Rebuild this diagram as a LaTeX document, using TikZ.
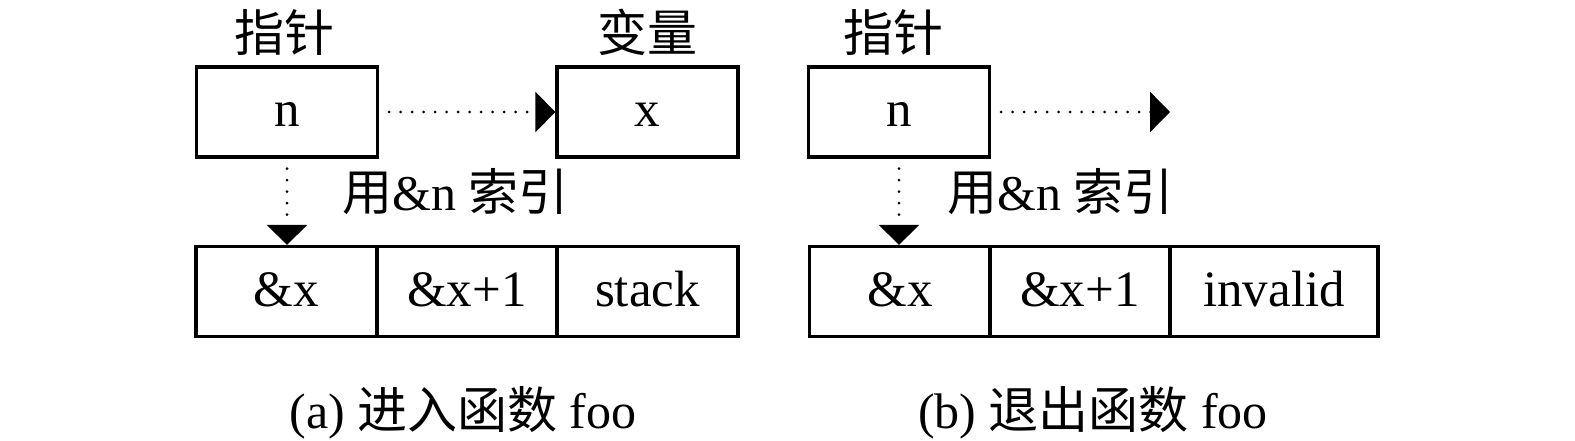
\documentclass[tikz,border=0pt]{standalone}
\usepackage{fontspec}
\setmainfont{Liberation Serif}
\newfontfamily\cjk{Noto Sans CJK SC}
\usetikzlibrary{arrows.meta}
\begin{document}
\begin{tikzpicture}[x=1pt,y=-1pt,
 cell/.style={draw,line width=3.3pt,minimum width=181pt,minimum height=90pt,inner sep=0pt,text height=37pt,text depth=7pt,font=\fontsize{51}{60}\selectfont},
 lbl/.style={inner sep=0pt,font=\fontsize{50}{60}\selectfont},
 ptr/.style={line width=3pt,line cap=round,dash pattern=on 0pt off 11.5pt,shorten <=10pt,-{Triangle[length=20pt,width=40pt]}}]
\useasboundingbox (0,0) rectangle (1575,441);
% (a)
\node[cell] (an) at (287,112) {n};
\node[cell] (ax) at (647.5,112) {x};
\node[cell] (ab1) at (286.5,291.5) {\&x};
\node[cell] (ab2) at (467,291.5) {\&x+1};
\node[cell] (ab3) at (647.5,291.5) {stack};
\draw[ptr] (an.east) -- (ax.west);
\draw[ptr] (an.south) -- (an.south |- ab1.north);
\node[lbl,anchor=base] (alp) at (284,52) {\cjk 指针};
\node[lbl,anchor=base] (alv) at (647,52) {\cjk 变量};
\node[lbl,anchor=base west] (ali) at (342,210) {{\cjk 用}\&n {\cjk 索引}};
\node[lbl,anchor=base] (acap) at (463,428) {(a) {\cjk 进入函数} foo};
% (b)
\node[cell] (bn) at (899,112) {n};
\node[cell] (bb1) at (900,291.5) {\&x};
\node[cell,minimum width=180pt] (bb2) at (1080,291.5) {\&x+1};
\node[cell,minimum width=208pt] (bb3) at (1274,291.5) {invalid};
\coordinate (bend) at (1170,112);
\draw[ptr] (bn.east) -- (bend);
\draw[ptr] (bn.south) -- (bn.south |- bb1.north);
\node[lbl,anchor=base] (blp) at (893,52) {\cjk 指针};
\node[lbl,anchor=base west] (bli) at (947,210) {{\cjk 用}\&n {\cjk 索引}};
\node[lbl,anchor=base] (bcap) at (1093,428) {(b) {\cjk 退出函数} foo};
\end{tikzpicture}
\end{document}
